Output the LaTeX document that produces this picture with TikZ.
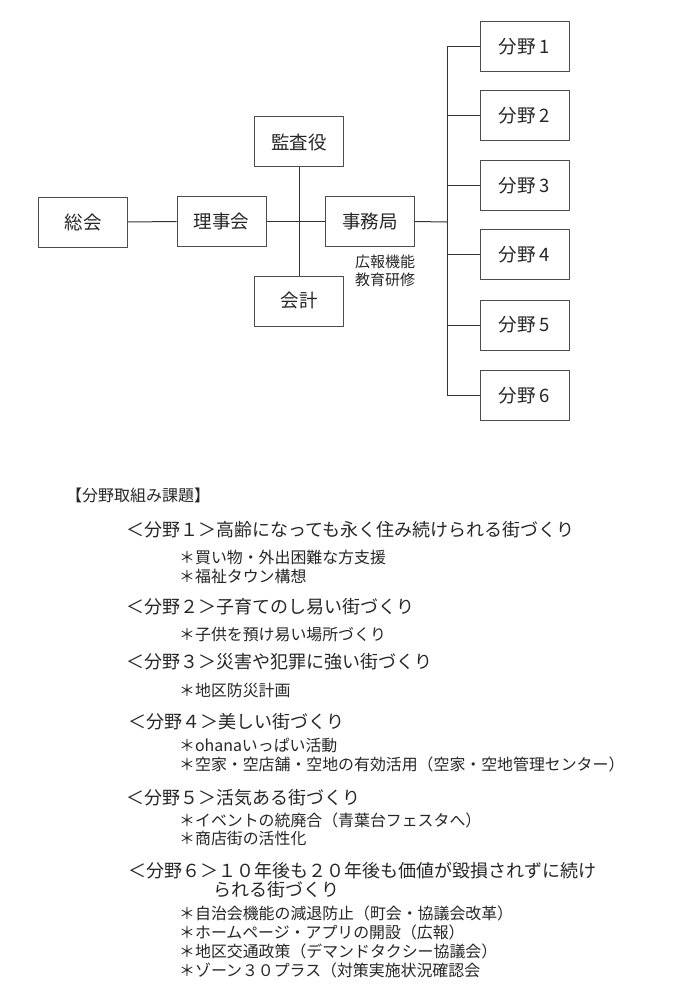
\documentclass[tikz,border=0pt]{standalone}
\usepackage{fontspec}
\setmainfont{Noto Sans CJK JP}
\begin{document}
\begin{tikzpicture}[x=1pt,y=-1pt,
  box/.style={draw=black!70,line width=1pt,minimum width=89pt,minimum height=50pt,inner sep=0pt,font=\fontsize{18.5}{20}\selectfont,text=black!85},
  conn/.style={draw=black!80,line width=1pt},
  head/.style={anchor=west,inner sep=0pt,font=\fontsize{18}{21}\selectfont,text=black!85},
  item/.style={anchor=west,inner sep=0pt,font=\fontsize{15.9}{17}\selectfont,text=black!85}]
\useasboundingbox (0,0) rectangle (685,1003);
% org chart
\node[box] (sokai) at (83,222) {総会};
\node[box] (rijikai) at (221.5,221.5) {理事会};
\node[box] (kansa) at (299,142) {監査役};
\node[box] (jimu) at (370,221.5) {事務局};
\node[box] (kaikei) at (299,301) {会計};
\node[align=center,inner sep=0pt,font=\fontsize{15}{18}\selectfont,text=black!85] (kouhou) at (385,271) {広報機能\\教育研修};
\node[box] (f1) at (524.5,47) {分野 1};
\node[box] (f2) at (524.5,116) {分野 2};
\node[box] (f3) at (524.5,185.5) {分野 3};
\node[box] (f4) at (524.5,254.5) {分野 4};
\node[box] (f5) at (524.5,325) {分野 5};
\node[box] (f6) at (524.5,395.5) {分野 6};
\coordinate (trunk) at (447,222);
\draw[conn] (sokai.east) -- (rijikai.west);
\draw[conn] (rijikai.east) -- (jimu.west);
\draw[conn] (kansa.south) -- (kaikei.north);
\draw[conn] (jimu.east) -- (trunk);
\draw[conn] (trunk |- f1.west) -- (trunk |- f6.west);
\foreach \f in {f1,f2,f3,f4,f5,f6} {\draw[conn] (trunk |- \f.west) -- (\f.west);}
% list
\node[anchor=west,inner sep=0pt,font=\fontsize{16}{18}\selectfont,text=black!85] (title) at (66,495) {【分野取組み課題】};
\node[head] (h1) at (126,530) {＜分野１＞高齢になっても永く住み続けられる街づくり};
\node[item] (i11) at (179,557) {＊買い物・外出困難な方支援};
\node[item] (i12) at (179,576) {＊福祉タウン構想};
\node[head] (h2) at (126,607) {＜分野２＞子育てのし易い街づくり};
\node[item] (i21) at (179,635) {＊子供を預け易い場所づくり};
\node[head] (h3) at (126,662) {＜分野３＞災害や犯罪に強い街づくり};
\node[item] (i31) at (179,690) {＊地区防災計画};
\node[head] (h4) at (128,722) {＜分野４＞美しい街づくり};
\node[item] (i41) at (179,745) {＊ohanaいっぱい活動};
\node[item] (i42) at (179,764) {＊空家・空店舗・空地の有効活用（空家・空地管理センター）};
\node[head] (h5) at (126,798) {＜分野５＞活気ある街づくり};
\node[item] (i51) at (179,820) {＊イベントの統廃合（青葉台フェスタへ）};
\node[item] (i52) at (179,838) {＊商店街の活性化};
\node[head] (h6) at (128,871) {＜分野６＞１０年後も２０年後も価値が毀損されずに続け};
\node[head] (h6b) at (213,890) {られる街づくり};
\node[item] (i61) at (179,913) {＊自治会機能の減退防止（町会・協議会改革）};
\node[item] (i62) at (179,932) {＊ホームページ・アプリの開設（広報）};
\node[item] (i63) at (179,951) {＊地区交通政策（デマンドタクシー協議会）};
\node[item] (i64) at (179,970) {＊ゾーン３０プラス（対策実施状況確認会};
\end{tikzpicture}
\end{document}
